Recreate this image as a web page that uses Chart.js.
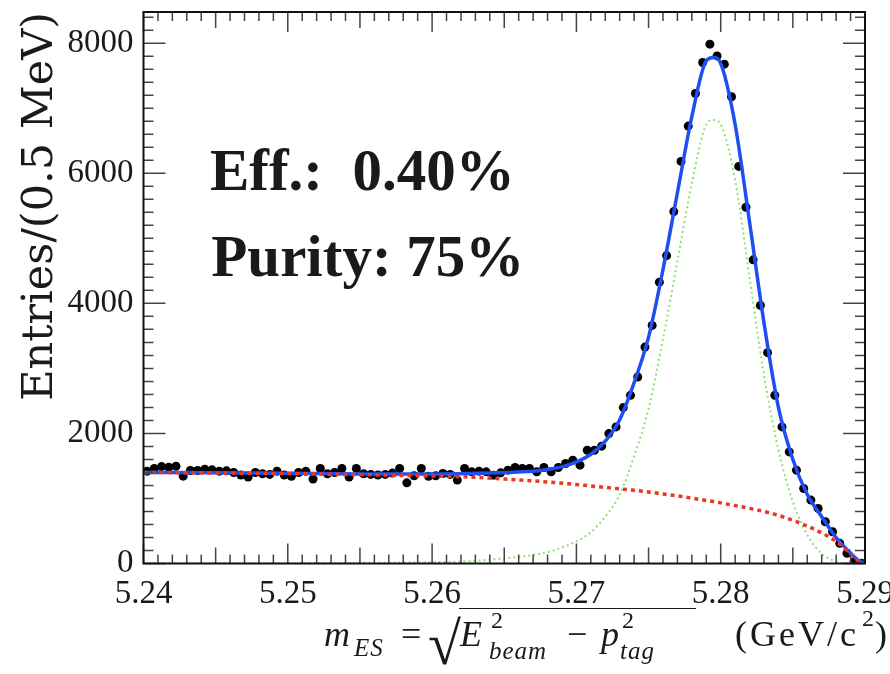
<!DOCTYPE html>
<html>
<head>
<meta charset="utf-8">
<script src="https://cdn.jsdelivr.net/npm/chart.js@4.4.1/dist/chart.umd.min.js"></script>
<style>
  html, body { margin: 0; padding: 0; background: #fff; }
  #wrap { position: relative; width: 890px; height: 674px; overflow: hidden; background: #fff; }
  #c { position: absolute; left: 0; top: 0; }
  .t { position: absolute; font-family: "Liberation Serif", "Times New Roman", serif; color: #1a1a1a; line-height: 1; white-space: pre; }
  .i { font-style: italic; }
</style>
</head>
<body>
<div id="wrap">
  <canvas id="c" width="890" height="674"></canvas>
</div>
<script>
// m_ES histogram, 0.5 MeV bins from 5.24 to 5.29
const binLow = 5.24;
const binWidth = 0.0005;
const counts = [
  1420, 1460, 1490, 1480, 1495, 1343, 1430, 1430, 1450, 1440,
  1420, 1425, 1400, 1360, 1330, 1400, 1380, 1370, 1420, 1360,
  1340, 1400, 1420, 1300, 1460, 1380, 1400, 1460, 1330, 1460,
  1380, 1370, 1360, 1370, 1390, 1460, 1240, 1350, 1460, 1340,
  1350, 1384, 1370, 1282, 1461, 1409, 1420, 1409, 1358, 1394,
  1435, 1476, 1461, 1461, 1409, 1476, 1409, 1476, 1538, 1589,
  1512, 1742, 1742, 1804, 1998, 2100, 2397, 2586, 2867, 3328,
  3661, 4326, 4735, 5411, 6183, 6726, 7227, 7703, 7985, 7805,
  7678, 7176, 6106, 5477, 4669, 3968, 3242, 2586, 2100, 1716,
  1435, 1154, 975, 847, 642, 488, 310, 157, 28, 5
];

// fit curves at these m_ES values
const curveX   = [5.24, 5.245, 5.25, 5.255, 5.26, 5.2625, 5.265, 5.2675, 5.2695, 5.271, 5.272, 5.273, 5.274, 5.275, 5.276, 5.277, 5.278, 5.279, 5.2795, 5.28, 5.281, 5.282, 5.283, 5.284, 5.285, 5.286, 5.287, 5.288, 5.289, 5.2895, 5.29];
const fitTotal = [1400, 1394, 1387, 1378, 1378, 1385, 1400, 1430, 1520, 1680, 1880, 2210, 2780, 3480, 4520, 5700, 6870, 7730, 7780, 7690, 6750, 5250, 3700, 2400, 1600, 1060, 720, 400, 160, 55, 0];
const fitBkg   = [1400, 1392, 1382, 1366, 1345, 1330, 1300, 1262, 1225, 1192, 1170, 1148, 1125, 1100, 1070, 1040, 1005, 970, 952, 932, 890, 848, 800, 740, 665, 575, 470, 340, 150, 50, 0];
const fitSig   = [0, 2, 5, 10, 20, 35, 80, 150, 290, 480, 720, 1060, 1650, 2380, 3450, 4650, 5850, 6750, 6820, 6750, 5900, 4400, 2900, 1750, 950, 440, 150, 30, 0, 0, 0];

const xTicks = [5.24, 5.25, 5.26, 5.27, 5.28, 5.29];
const yTicks = [0, 2000, 4000, 6000, 8000];
const yTitle = 'Entries/(0.5 MeV)';
const effText = 'Eff.:  0.40%';
const purityText = 'Purity: 75%';

const serif = '"Liberation Serif", "Times New Roman", serif';
const ink = '#1a1a1a';

const points = counts.map((c, i) => ({ x: binLow + (i + 0.5) * binWidth, y: c }));
const curve = arr => curveX.map((x, i) => ({ x: x, y: arr[i] }));

// frame + inward ticks on all four sides (ROOT look)
const framePlugin = {
  id: 'frame',
  afterDraw(chart) {
    const { ctx, chartArea: a, scales: { x, y } } = chart;
    ctx.save();
    ctx.strokeStyle = '#444';
    ctx.lineWidth = 1.5;
    ctx.beginPath();
    for (let k = 0; k <= 50; k++) {
      const px = x.getPixelForValue(5.24 + k * 0.001);
      const len = k % 10 === 0 ? 20 : (k % 5 === 0 ? 16 : 9);
      ctx.moveTo(px, a.bottom); ctx.lineTo(px, a.bottom - len);
      ctx.moveTo(px, a.top); ctx.lineTo(px, a.top + len);
    }
    for (let v = 0; v <= 8400; v += 200) {
      const py = y.getPixelForValue(v);
      const len = v % 2000 === 0 ? 22 : 10;
      ctx.moveTo(a.left, py); ctx.lineTo(a.left + len, py);
      ctx.moveTo(a.right, py); ctx.lineTo(a.right - len, py);
    }
    ctx.stroke();
    ctx.strokeStyle = '#111';
    ctx.lineWidth = 2;
    ctx.strokeRect(a.left, a.top, a.right - a.left, a.bottom - a.top);

    // text boxes
    ctx.fillStyle = ink;
    ctx.font = 'bold 59px ' + serif;
    ctx.textBaseline = 'alphabetic';
    ctx.fillText(effText, x.getPixelForValue(5.2446), y.getPixelForValue(5750));
    ctx.fillText(purityText, x.getPixelForValue(5.2447), y.getPixelForValue(4420));
    ctx.restore();
  }
};

new Chart(document.getElementById('c'), {
  type: 'scatter',
  data: {
    datasets: [
      { label: 'data', data: points, order: 4, pointRadius: 4.5, pointHoverRadius: 4.5,
        backgroundColor: '#000', borderColor: '#000', borderWidth: 0 },
      { label: 'total', data: curve(fitTotal), order: 3, showLine: true, pointRadius: 0,
        borderColor: '#1f4ff2', borderWidth: 3.5, cubicInterpolationMode: 'monotone' },
      { label: 'signal', data: curve(fitSig), order: 2, showLine: true, pointRadius: 0,
        borderColor: '#8fe07a', borderWidth: 2, borderDash: [2, 3], cubicInterpolationMode: 'monotone' },
      { label: 'background', data: curve(fitBkg), order: 1, showLine: true, pointRadius: 0,
        borderColor: '#ee3524', borderWidth: 3.5, borderDash: [4, 4], cubicInterpolationMode: 'monotone' }
    ]
  },
  options: {
    responsive: false,
    animation: false,
    layout: { padding: { top: 12, right: 25, left: 0, bottom: 0 } },
    plugins: { legend: { display: false }, tooltip: { enabled: false } },
    scales: {
      x: {
        type: 'linear', min: 5.24, max: 5.29,
        grid: { display: false }, border: { display: false },
        afterBuildTicks: s => { s.ticks = xTicks.map(v => ({ value: v })); },
        afterFit: s => { s.height = 110.5; s.paddingLeft = 0; s.paddingRight = 0; },
        ticks: { callback: v => v.toFixed(2), color: ink, padding: 3, maxRotation: 0, autoSkip: false,
                 font: { family: serif, size: 33 } }
      },
      y: {
        type: 'linear', min: 0, max: 8480,
        grid: { display: false }, border: { display: false },
        afterBuildTicks: s => { s.ticks = yTicks.map(v => ({ value: v })); },
        afterFit: s => { s.width = 143.5; s.paddingTop = 0; s.paddingBottom = 0; },
        ticks: { callback: v => String(v), color: ink, padding: 2, font: { family: serif, size: 33 } },
        title: { display: true, text: yTitle, align: 'end', color: ink,
                 font: { family: '"DejaVu Serif", serif', size: 43 }, padding: { top: 15, bottom: 0 } }
      }
    }
  },
  plugins: [framePlugin]
});

// x-axis title: m_ES = sqrt(E_beam^2 - p_tag^2)  (GeV/c^2)
const wrap = document.getElementById('wrap');
function place(text, x, baseline, size, italic, spacing) {
  const s = document.createElement('span');
  s.className = 't' + (italic ? ' i' : '');
  s.textContent = text;
  s.style.fontSize = size + 'px';
  s.style.left = x + 'px';
  s.style.top = (baseline - 0.8375 * size) + 'px';
  if (spacing) s.style.letterSpacing = spacing + 'px';
  wrap.appendChild(s);
}
place('m', 324, 646, 36, true);
place('ES', 354, 656, 25, true, 1);
place('=', 401, 646, 36, false);
place('\u221A', 428, 664, 60, false);
place('E', 460, 646, 36, true);
place('2', 491, 628, 24, false);
place('beam', 489, 659, 25, true, 1);
place('\u2212', 567, 646, 36, false);
place('p', 601, 646, 36, true);
place('2', 622, 628, 24, false);
place('tag', 620, 659, 25, true, 1);
place('(GeV/c', 735, 646, 36, false, 3);
place('2', 862, 626, 24, false);
place(')', 875, 646, 36, false);
const bar = document.createElement('div');
bar.style.cssText = 'position:absolute;left:459px;top:608px;width:237px;border-top:1.6px solid #1a1a1a;';
wrap.appendChild(bar);
</script>
</body>
</html>
